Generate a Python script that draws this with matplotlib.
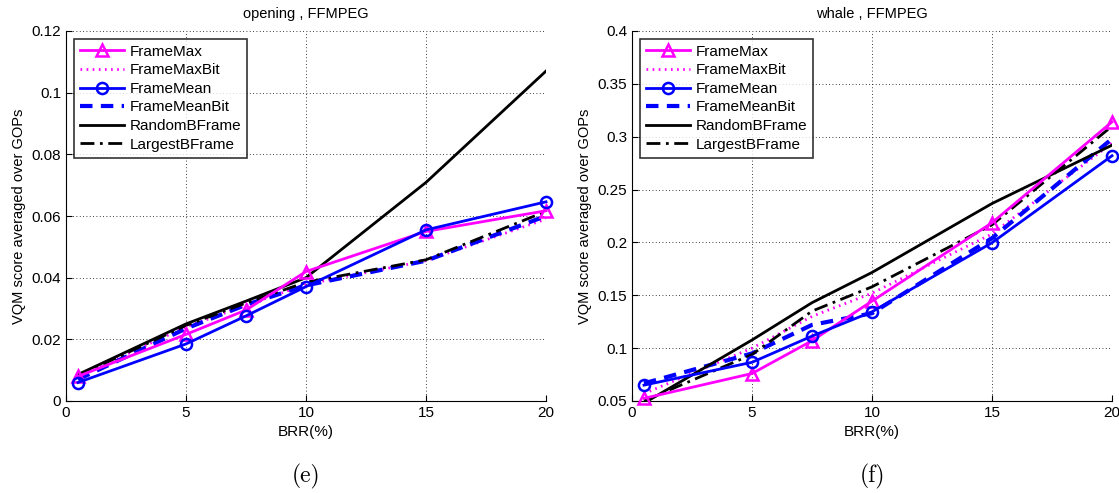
import matplotlib
matplotlib.use("Agg")
import matplotlib.pyplot as plt

plt.rcParams['font.family'] = ['Liberation Sans', 'DejaVu Sans']

# BRR values (%) common to both panels
brr = [0.5, 5, 7.5, 10, 15, 20]

# (e) opening , FFMPEG
open_framemax = [0.0080, 0.0216, 0.0295, 0.0420, 0.0550, 0.0617]
open_framemaxbit = [0.0080, 0.0240, 0.0310, 0.0378, 0.0455, 0.0590]
open_framemean = [0.0060, 0.0185, 0.0276, 0.0371, 0.0555, 0.0646]
open_framemeanbit = [0.0070, 0.0235, 0.0312, 0.0375, 0.0455, 0.0600]
open_random = [0.0086, 0.0250, 0.0324, 0.0400, 0.0709, 0.1070]
open_largest = [0.0082, 0.0245, 0.0318, 0.0385, 0.0458, 0.0615]

# (f) whale , FFMPEG
whale_framemax = [0.0525, 0.0760, 0.1070, 0.1445, 0.2186, 0.3140]
whale_framemaxbit = [0.0570, 0.1000, 0.1300, 0.1520, 0.2080, 0.2940]
whale_framemean = [0.0650, 0.0866, 0.1114, 0.1344, 0.1997, 0.2820]
whale_framemeanbit = [0.0667, 0.0950, 0.1220, 0.1330, 0.2040, 0.2980]
whale_random = [0.0480, 0.1077, 0.1430, 0.1716, 0.2368, 0.2920]
whale_largest = [0.0500, 0.0940, 0.1350, 0.1580, 0.2166, 0.3100]

labels = ['FrameMax', 'FrameMaxBit', 'FrameMean', 'FrameMeanBit',
          'RandomBFrame', 'LargestBFrame']

fig = plt.figure(figsize=(11.19, 4.93), dpi=100)
ax1 = fig.add_axes([66 / 1119, 92 / 493, 480 / 1119, 370 / 493])
ax2 = fig.add_axes([632 / 1119, 92 / 493, 480 / 1119, 370 / 493])


def draw(ax, series, title, ylim, yticks, caption):
    fmax, fmaxbit, fmean, fmeanbit, rnd, largest = series
    ax.plot(brr, fmax, color='magenta', lw=2, marker='^', ms=8,
            mfc='none', mew=1.8, label=labels[0], clip_on=False, zorder=5)
    ax.plot(brr, fmaxbit, color='magenta', lw=2, ls=(0, (0.6, 1.6)),
            label=labels[1])
    ax.plot(brr, fmean, color='blue', lw=2, marker='o', ms=8,
            mfc='none', mew=1.8, label=labels[2], clip_on=False, zorder=5)
    ax.plot(brr, fmeanbit, color='blue', lw=3, ls=(0, (3, 2)),
            label=labels[3])
    ax.plot(brr, rnd, color='black', lw=2, label=labels[4])
    ax.plot(brr, largest, color='black', lw=2, ls=(0, (5, 2, 1, 2)),
            label=labels[5])
    ax.set_xlim(0, 20)
    ax.set_ylim(*ylim)
    ax.set_xticks([0, 5, 10, 15, 20])
    ax.set_yticks(yticks)
    ax.set_yticklabels([('%g' % t) for t in yticks])
    ax.grid(True, ls=(0, (1, 3)), color='black', lw=0.6)
    ax.spines['top'].set_visible(False)
    ax.spines['right'].set_visible(False)
    ax.tick_params(direction='in', labelsize=11, length=4)
    ax.set_title(title, fontsize=10.5, pad=9)
    ax.set_xlabel('BRR(%)', fontsize=11, labelpad=4)
    ax.set_ylabel('VQM score averaged over GOPs', fontsize=10.5)
    leg = ax.legend(loc='upper left', fontsize=11, frameon=True,
                    fancybox=False, edgecolor='black', borderaxespad=0.5,
                    handlelength=2.9, labelspacing=0.3, borderpad=0.4,
                    handletextpad=0.35)
    leg.get_frame().set_linewidth(1.2)
    ax.text(0.5, -0.205, caption, transform=ax.transAxes, ha='center',
            va='center', fontsize=17, family='cmr10')


draw(ax1, [open_framemax, open_framemaxbit, open_framemean,
           open_framemeanbit, open_random, open_largest],
     'opening , FFMPEG', (0, 0.12),
     [0, 0.02, 0.04, 0.06, 0.08, 0.1, 0.12], '(e)')
draw(ax2, [whale_framemax, whale_framemaxbit, whale_framemean,
           whale_framemeanbit, whale_random, whale_largest],
     'whale , FFMPEG', (0.05, 0.4),
     [0.05, 0.1, 0.15, 0.2, 0.25, 0.3, 0.35, 0.4], '(f)')

fig.savefig('out.png', dpi=100)
